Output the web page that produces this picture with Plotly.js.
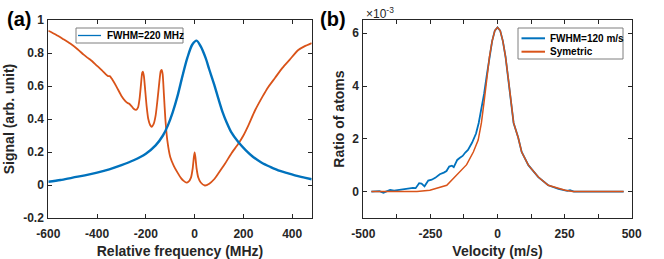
<!DOCTYPE html>
<html>
<head>
<meta charset="utf-8">
<script src="https://cdn.plot.ly/plotly-3.0.1.min.js"></script>
<style>html,body{margin:0;padding:0;background:#fff}#chart{width:664px;height:259px}</style>
</head>
<body>
<div id="chart"></div>
<script>
// ---- Panel (a): signal vs relative frequency ----
const freqA_blue = [-600,-550,-500,-450,-400,-350,-300,-250,-200,-160,-130,-110,-90,-70,-50,-30,-10,8,25,45,60,80,97,115,131,150,179,210,240,275,310,350,384,420,450,480];
const sigA_blue  = [0.02,0.03,0.045,0.058,0.075,0.095,0.12,0.15,0.19,0.24,0.30,0.36,0.44,0.54,0.66,0.77,0.85,0.875,0.84,0.77,0.70,0.61,0.525,0.44,0.38,0.32,0.26,0.21,0.17,0.135,0.11,0.085,0.07,0.055,0.045,0.035];

const freqA_orange = [-600,-570,-540,-510,-480,-455,-440,-430,-420,-400,-380,-365,-355,-348,-340,-320,-300,-285,-275,-268,-260,-250,-240,-232,-226,-220,-215,-212,-208,-203,-197,-190,-182,-176,-168,-160,-152,-145,-139,-135,-131,-126,-120,-112,-100,-85,-70,-55,-45,-33,-25,-15,-8,-3,0,3,8,15,25,42,60,80,97,125,150,179,200,220,247,280,300,330,360,390,425,450,480];
const sigA_orange  = [0.935,0.912,0.885,0.857,0.823,0.79,0.772,0.762,0.750,0.722,0.695,0.672,0.660,0.660,0.645,0.595,0.540,0.510,0.497,0.492,0.480,0.462,0.455,0.470,0.52,0.61,0.68,0.687,0.66,0.58,0.48,0.40,0.362,0.353,0.37,0.42,0.52,0.62,0.69,0.697,0.67,0.55,0.40,0.27,0.17,0.115,0.075,0.04,0.025,0.014,0.02,0.045,0.10,0.17,0.198,0.17,0.10,0.045,0.015,-0.003,0.008,0.035,0.07,0.13,0.19,0.25,0.30,0.36,0.45,0.54,0.59,0.65,0.71,0.76,0.818,0.84,0.86];

const ticksA_x = [-600,-400,-200,0,200,400];
const ticksA_xText = ['-600','-400','-200','0','200','400'];
const ticksA_y = [-0.2,0,0.2,0.4,0.6,0.8,1];
const ticksA_yText = ['-0.2','0','0.2','0.4','0.6','0.8','1'];

// ---- Panel (b): ratio of atoms (x10^-3) vs velocity ----
const velB_blue = [-470,-440,-425,-410,-400,-385,-370,-350,-335,-315,-305,-292,-283,-272,-258,-245,-232,-215,-200,-190,-180,-170,-163,-150,-140,-130,-120,-110,-95,-80,-70,-60,-50,-40,-30,-20,-10,0,10,20,30,40,50,60,77,90,115,152,189,227,260,270,285,470];
const ratioB_blue = [0,0.02,-0.04,0.03,0.06,0.04,0.06,0.09,0.12,0.14,0.13,0.32,0.30,0.20,0.42,0.45,0.52,0.66,0.72,0.78,0.95,0.98,0.93,1.2,1.28,1.35,1.48,1.58,1.85,2.2,2.6,3.1,3.7,4.4,5.1,5.7,6.1,6.22,6.1,5.7,5.1,4.3,3.4,2.6,2.05,1.5,1.0,0.55,0.24,0.1,0.03,0.05,0.0,0];

const velB_orange = [-470,-300,-252,-189,-115,-90,-72,-60,-50,-40,-30,-20,-10,0,10,20,30,40,50,60,77,90,115,152,189,252,281,470];
const ratioB_orange = [0,0,0.05,0.24,1.02,1.5,1.95,2.6,3.4,4.3,5.1,5.7,6.1,6.22,6.1,5.7,5.1,4.3,3.4,2.6,2.05,1.5,1.0,0.55,0.24,0.05,0,0];

const ticksB_x = [-500,-250,0,250,500];
const ticksB_xText = ['-500','-250','0','250','500'];
const ticksB_xMinor = [-375,-125,125,375];
const ticksB_y = [0,2,4,6];
const ticksB_yText = ['0','2','4','6'];

const legendA = ['FWHM=220 MHz'];
const legendB = ['FWHM=120 m/s','Symetric'];

const BLUE = '#0072BD', ORANGE = '#D95319', AX = '#262626';
const FONT = 'Liberation Sans, Arial, sans-serif';

const traces = [
  {x: freqA_orange, y: sigA_orange, xaxis:'x', yaxis:'y', mode:'lines', line:{color:ORANGE, width:1.8, shape:'spline', smoothing:0.6}, name:'ref', showlegend:false},
  {x: freqA_blue, y: sigA_blue, xaxis:'x', yaxis:'y', mode:'lines', line:{color:BLUE, width:2.4, shape:'spline', smoothing:0.8}, name:legendA[0], showlegend:false},
  {x: velB_blue, y: ratioB_blue, xaxis:'x2', yaxis:'y2', mode:'lines', line:{color:BLUE, width:1.8}, name:legendB[0], showlegend:false},
  {x: velB_orange, y: ratioB_orange, xaxis:'x2', yaxis:'y2', mode:'lines', line:{color:ORANGE, width:1.5}, name:legendB[1], showlegend:false}
];

function axisCommon() {
  return {
    showgrid:false, zeroline:false, showline:true, linecolor:AX, linewidth:1,
    mirror:'ticks', ticks:'inside', ticklen:4, tickcolor:AX, tickwidth:1,
    tickmode:'array',
    tickfont:{family:FONT, size:12, color:AX, weight:'bold'}
  };
}

const W = 664, H = 259;
const px = v => v / W;

const layout = {
  width: W, height: H,
  margin: {l:0, r:0, t:20, b:41},
  paper_bgcolor:'#fff', plot_bgcolor:'#fff',
  showlegend:false,
  xaxis: Object.assign(axisCommon(), {
    domain:[px(48.3), px(311.7)], range:[-600,480],
    tickvals:ticksA_x, ticktext:ticksA_xText, anchor:'y', ticklabelstandoff:5,
    title:{text:'Relative frequency (MHz)', font:{family:FONT, size:14, color:AX, weight:'bold'}, standoff:6}
  }),
  yaxis: Object.assign(axisCommon(), {
    domain:[0,1], range:[-0.2,1], anchor:'x', ticklabelstandoff:1,
    tickvals:ticksA_y, ticktext:ticksA_yText,
    title:{text:'Signal (arb. unit)', font:{family:FONT, size:14, color:AX, weight:'bold'}, standoff:5}
  }),
  xaxis2: Object.assign(axisCommon(), {
    domain:[px(363.3), px(631.7)], range:[-500,500], anchor:'y2', ticklabelstandoff:5,
    tickvals:ticksB_x, ticktext:ticksB_xText,
    minor:{tickmode:'array', tickvals:ticksB_xMinor, ticks:'inside', ticklen:4, tickcolor:AX, tickwidth:1, showgrid:false},
    title:{text:'Velocity (m/s)', font:{family:FONT, size:14, color:AX, weight:'bold'}, standoff:6}
  }),
  yaxis2: Object.assign(axisCommon(), {
    domain:[0,1], range:[-1,6.5], anchor:'x2', ticklabelstandoff:1,
    tickvals:ticksB_y, ticktext:ticksB_yText,
    title:{text:'Ratio of atoms', font:{family:FONT, size:14, color:AX, weight:'bold'}, standoff:4}
  }),
  shapes: [
    {type:'rect', xref:'paper', yref:'paper', x0:px(76), x1:px(183), y0:1-(28-20)/198, y1:1-(43-20)/198, line:{color:'#7f7f7f', width:1}, fillcolor:'#fff', layer:'above'},
    {type:'line', xref:'paper', yref:'paper', x0:px(78), x1:px(101), y0:1-(35.5-20)/198, y1:1-(35.5-20)/198, line:{color:BLUE, width:1.3}, layer:'above'},
    {type:'rect', xref:'paper', yref:'paper', x0:px(518), x1:px(623), y0:1-(28-20)/198, y1:1-(59-20)/198, line:{color:'#7f7f7f', width:1}, fillcolor:'#fff', layer:'above'},
    {type:'line', xref:'paper', yref:'paper', x0:px(521.5), x1:px(545), y0:1-(38.3-20)/198, y1:1-(38.3-20)/198, line:{color:BLUE, width:2}, layer:'above'},
    {type:'line', xref:'paper', yref:'paper', x0:px(521.5), x1:px(545), y0:1-(51.7-20)/198, y1:1-(51.7-20)/198, line:{color:ORANGE, width:2}, layer:'above'}
  ],
  annotations: [
    {text:'(a)', xref:'paper', yref:'paper', x:px(19), y:1-(18.5-20)/198, xanchor:'center', yanchor:'middle', showarrow:false, font:{family:FONT, size:20, color:'#000', weight:'bold'}},
    {text:'(b)', xref:'paper', yref:'paper', x:px(333), y:1-(18.5-20)/198, xanchor:'center', yanchor:'middle', showarrow:false, font:{family:FONT, size:20, color:'#000', weight:'bold'}},
    {text:'×10<sup>-3</sup>', xref:'paper', yref:'paper', x:px(364), y:1-(13-20)/198, xanchor:'left', yanchor:'middle', showarrow:false, font:{family:FONT, size:12, color:AX}},
    {text:legendA[0], xref:'paper', yref:'paper', x:px(105), y:1-(35.5-20)/198, xanchor:'left', yanchor:'middle', showarrow:false, font:{family:FONT, size:10, color:'#000', weight:'bold'}},
    {text:legendB[0], xref:'paper', yref:'paper', x:px(547.5), y:1-(38.3-20)/198, xanchor:'left', yanchor:'middle', showarrow:false, font:{family:FONT, size:10, color:'#000', weight:'bold'}},
    {text:legendB[1], xref:'paper', yref:'paper', x:px(547.5), y:1-(51.7-20)/198, xanchor:'left', yanchor:'middle', showarrow:false, font:{family:FONT, size:10, color:'#000', weight:'bold'}}
  ]
};

Plotly.newPlot('chart', traces, layout, {displayModeBar:false, staticPlot:true});
</script>
</body>
</html>
